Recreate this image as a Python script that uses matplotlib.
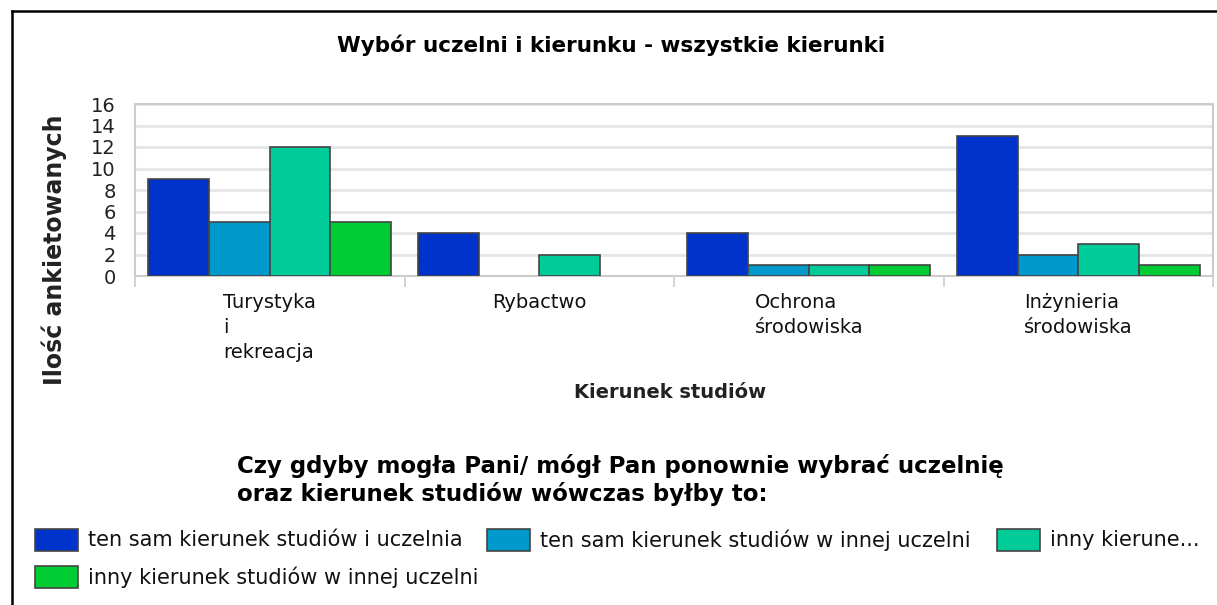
import matplotlib.pyplot as plt
import numpy as np
from matplotlib.patches import Rectangle
from matplotlib.lines import Line2D

# data
categories = ['Turystyka\ni\nrekreacja', 'Rybactwo', 'Ochrona\nśrodowiska', 'Inżynieria\nśrodowiska']
series_names = ['ten sam kierunek studiów i uczelnia',
                'ten sam kierunek studiów w innej uczelni',
                'inny kierune...',
                'inny kierunek studiów w innej uczelni']
same_same = [9, 4, 4, 13]
same_other = [5, 0, 1, 2]
other_same = [12, 2, 1, 3]
other_other = [5, 0, 1, 1]
colors = ['#0033CC', '#0099CC', '#00CC99', '#00CC33']
yticks = [0, 2, 4, 6, 8, 10, 12, 14, 16]

W, H = 1217, 605
fig = plt.figure(figsize=(W / 100, H / 100), dpi=100)

def fx(px):
    return px / W

def fy(py):
    return 1 - py / H

ax = fig.add_axes([fx(135), fy(276), fx(1213) - fx(135), fy(104) - fy(276)])

x = np.arange(len(categories))
bw = 0.225
series = [same_same, same_other, other_same, other_other]
for i, vals in enumerate(series):
    ax.bar(x + (i - 1.5) * bw, vals, width=bw, color=colors[i],
           edgecolor='#444444', linewidth=[1.2 if v else 0 for v in vals], zorder=3)

ax.set_xlim(-0.5, len(categories) - 0.5)
ax.set_ylim(0, 16)
ax.set_yticks(yticks)
ax.set_yticklabels([str(v) for v in yticks], fontsize=14, color='#222222')
ax.tick_params(axis='y', length=0, pad=14)
ax.grid(axis='y', color='#e6e6e6', linewidth=2, zorder=0)

# category separators as major ticks, names as minor ticks
ax.set_xticks(np.arange(len(categories) + 1) - 0.5)
ax.set_xticklabels([])
ax.tick_params(axis='x', which='major', length=8, color='#cccccc', width=1.2)
ax.set_xticks(x, minor=True)
ax.set_xticklabels(categories, minor=True, fontsize=14, color='#111111')
ax.tick_params(axis='x', which='minor', length=0, pad=12)
for t in ax.get_xticklabels(minor=True):
    t.set_multialignment('left')
    t.set_linespacing(1.42)

for s in ax.spines.values():
    s.set_color('#cccccc')
    s.set_linewidth(1.5)

fig.text(fx(611), fy(45), 'Wybór uczelni i kierunku - wszystkie kierunki',
         ha='center', va='center', fontsize=15.5, fontweight='bold')
fig.text(fx(54), fy(250), 'Ilość ankietowanych', rotation=90,
         ha='center', va='center', fontsize=17, fontweight='bold', color='#222222')
fig.text(fx(670), fy(393), 'Kierunek studiów', ha='center', va='center',
         fontsize=14, fontweight='bold', color='#222222')

# legend
fig.text(fx(237), fy(480),
         'Czy gdyby mogła Pani/ mógł Pan ponownie wybrać uczelnię\noraz kierunek studiów wówczas byłby to:',
         ha='left', va='center', fontsize=16.5, fontweight='bold', linespacing=1.2)
leg_pos = [(35, 540), (487, 540), (997, 540), (35, 577)]
for (px, py), name, c in zip(leg_pos, series_names, colors):
    fig.patches.append(Rectangle((fx(px), fy(py + 11)), fx(43), 22 / H,
                                 transform=fig.transFigure, facecolor=c,
                                 edgecolor='#444444', linewidth=1.2))
    fig.text(fx(px + 53), fy(py), name, ha='left', va='center',
             fontsize=15, color='#111111')

# outer frame (top and left only visible)
fig.add_artist(Line2D([fx(12), 1], [fy(11), fy(11)], color='black', linewidth=1.8,
                      transform=fig.transFigure))
fig.add_artist(Line2D([fx(12), fx(12)], [fy(11), 0], color='black', linewidth=1.8,
                      transform=fig.transFigure))

fig.savefig('out.png', dpi=100)
